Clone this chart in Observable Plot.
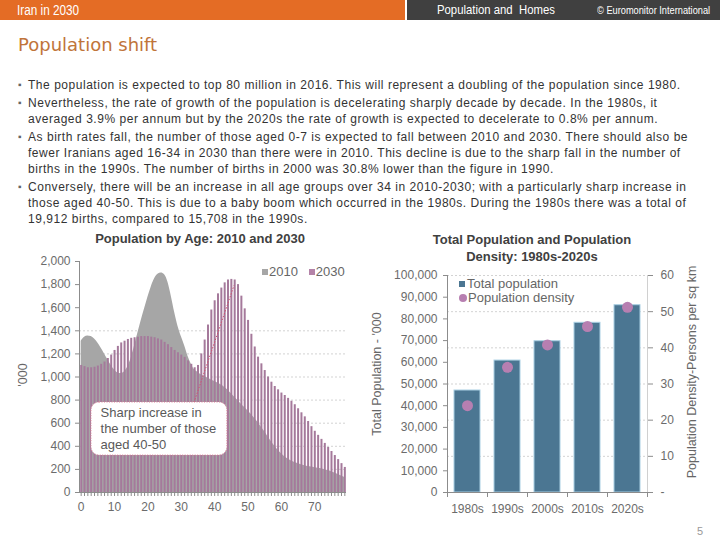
<!DOCTYPE html>
<html><head><meta charset="utf-8">
<script src="https://cdn.jsdelivr.net/npm/d3@7"></script>
<script src="https://cdn.jsdelivr.net/npm/@observablehq/plot@0.6"></script>
<style>
body{margin:0;width:720px;height:540px;position:relative;overflow:hidden;background:#fff;font-family:"Liberation Sans",Arial,sans-serif;}
.abs{position:absolute;white-space:nowrap;}
.hdr{color:#fff;font-family:"Liberation Sans Narrow","Liberation Sans",Arial,sans-serif;transform-origin:0 0;transform:scaleX(0.84);}
#bullets{left:18px;top:77px;font-size:12px;letter-spacing:0.53px;line-height:16px;color:#333;}
#bullets p{margin:0 0 2px 0;padding-left:10px;position:relative;}
#bullets p:before{content:"\25AA";position:absolute;left:0;top:0;color:#666;font-size:10px;letter-spacing:0;}
.ctitle{font-weight:bold;font-size:13px;color:#404040;text-align:center;}
.rot{transform:translate(-50%,-50%) rotate(-90deg);font-size:12.5px;color:#666;}
.leg{font-size:13px;color:#666;}
</style></head><body>
<div class="abs" style="left:0;top:0;width:405px;height:20px;background:#e46c25"></div>
<div class="abs" style="left:407px;top:0;width:313px;height:20px;background:#404040"></div>
<div class="abs hdr" style="left:17px;top:2px;font-size:14px;">Iran in 2030</div>
<div class="abs hdr" style="left:437px;top:2px;font-size:13.5px;">Population and&nbsp; Homes</div>
<div class="abs hdr" style="left:597px;top:4px;font-size:11px;">© Euromonitor International</div>
<div class="abs" style="left:18px;top:34px;font-family:'DejaVu Sans',Verdana,sans-serif;font-size:18px;color:#c0743a;">Population shift</div>
<div id="bullets" class="abs">
<p>The population is expected to top 80 million in 2016. This will represent a doubling of the population since 1980.</p>
<p>Nevertheless, the rate of growth of the population is decelerating sharply decade by decade. In the 1980s, it<br>averaged 3.9% per annum but by the 2020s the rate of growth is expected to decelerate to 0.8% per annum.</p>
<p>As birth rates fall, the number of those aged 0-7 is expected to fall between 2010 and 2030. There should also be<br>fewer Iranians aged 16-34 in 2030 than there were in 2010. This decline is due to the sharp fall in the number of<br>births in the 1990s. The number of births in 2000 was 30.8% lower than the figure in 1990.</p>
<p>Conversely, there will be an increase in all age groups over 34 in 2010-2030; with a particularly sharp increase in<br>those aged 40-50. This is due to a baby boom which occurred in the 1980s. During the 1980s there was a total of<br>19,912 births, compared to 15,708 in the 1990s.</p>
</div>

<div class="abs ctitle" style="left:200px;top:231px;transform:translateX(-50%);">Population by Age: 2010 and 2030</div>
<div class="abs ctitle" style="left:532px;top:231px;transform:translateX(-50%);line-height:17px;">Total Population and Population<br>Density: 1980s-2020s</div>

<div class="abs rot" style="left:23px;top:375px;">'000</div>
<div class="abs rot" style="left:377px;top:374px;">Total Population - '000</div>
<div class="abs rot" style="left:692px;top:372px;">Population Density-Persons per sq km</div>

<div class="abs leg" style="left:262px;top:264px;"><span style="display:inline-block;width:6px;height:6px;background:#a6a6a6;margin-right:1px;vertical-align:1px"></span>2010&nbsp;&nbsp;&nbsp;<span style="display:inline-block;width:6px;height:6px;background:#b483a8;margin-right:1px;vertical-align:1px"></span>2030</div>
<div class="abs leg" style="left:459px;top:277px;line-height:14px;"><span style="display:inline-block;width:6px;height:6px;background:#4b7692;margin-right:2px;vertical-align:1px"></span>Total population<br><span style="display:inline-block;width:8px;height:8px;border-radius:50%;background:#b77fb1;margin-right:1px;vertical-align:0px"></span>Population density</div>

<div class="abs" style="left:697px;top:525px;font-size:11px;color:#999;">5</div>

<div id="left" class="abs" style="left:0;top:250px;"></div>
<div id="right" class="abs" style="left:360px;top:262px;"></div>

<script>
// ---- Data ----
const ages = d3.range(0, 80);
const pop2010 = [1310,1345,1355,1350,1330,1295,1250,1200,1150,1100,
  1060,1035,1030,1045,1090,1165,1270,1380,1490,1590,
  1690,1780,1850,1890,1900,1885,1820,1700,1560,1440,
  1350,1270,1180,1110,1060,1040,1020,1005,990,975,
  960,945,930,910,885,855,825,795,765,735,
  705,675,640,605,565,525,480,440,400,365,
  335,310,290,272,260,250,240,232,225,220,
  215,210,205,198,190,180,168,155,142,130];
const pop2030 = [1100,1090,1080,1080,1085,1095,1110,1130,1160,1190,
  1230,1265,1295,1310,1325,1335,1340,1345,1350,1350,
  1350,1345,1340,1330,1320,1300,1280,1255,1230,1210,
  1190,1170,1140,1110,1080,1100,1200,1320,1450,1580,
  1660,1720,1770,1815,1840,1845,1840,1800,1700,1590,
  1490,1370,1260,1172,1114,1056,1000,955,918,889,
  861,840,815,790,760,725,690,655,615,570,
  530,495,460,425,390,355,320,285,250,217];
const ageTicks = d3.range(0, 2001, 200);
const ageGrid = [200,400,600,800,1000,1200,1400];
const annotationBox = [{x1: 3.1, x2: 43.8, y1: 320, y2: 779}];
const annotationLine = [{x1: 33.8, y1: 780, x2: 45.8, y2: 1793}];
const annotationText = [{x: 5.8, y: 753, text: "Sharp increase in\nthe number of those\naged 40-50"}];

const decades = ["1980s","1990s","2000s","2010s","2020s"];
const totalPop = [47000, 60800, 69700, 78200, 86300];
const density = [24.0, 34.6, 40.8, 45.9, 51.2];
const popTicks = d3.range(0, 100001, 10000);
const densityTicks = [0,10,20,30,40,50,60];

// ---- Left chart ----
const ageData = ages.map((a,i)=>({age:a, v2010: pop2010[i], v2030: pop2030[i]}));
const font = "Liberation Sans, Arial, sans-serif";
const left = Plot.plot({
  width: 360, height: 280,
  marginLeft: 79, marginRight: 14, marginTop: 11, marginBottom: 38,
  x: {domain: [-0.5, 79.5]},
  y: {domain: [0, 2000]},
  style: {fontFamily: font, fontSize: "12px", color: "#6b6b6b", background: "transparent", overflow: "visible"},
  marks: [
    Plot.ruleY(ageGrid, {stroke: "#c8c8c8", strokeDasharray: "2,2", strokeWidth: 0.8}),
    Plot.areaY(ageData, {x: "age", y: "v2010", fill: "#a6a6a6", curve: "monotone-x"}),
    Plot.ruleX(ageData, {x: "age", y1: 0, y2: "v2030", stroke: "#a5799b", strokeWidth: 2}),
    Plot.ruleX([-0.5], {y1: 0, y2: 2000, stroke: "#8c8c8c"}),
    Plot.ruleY([0], {stroke: "#8c8c8c"}),
    Plot.axisY(ageTicks, {tickSize: 4, tickPadding: 5, tickFormat: d3.format(","), label: null, stroke: "#8c8c8c"}),
    Plot.axisX(ages, {tickSize: 4, tickPadding: 6, tickFormat: d => d % 10 === 0 ? String(d) : "", label: null, stroke: "#8c8c8c"}),
    Plot.link(annotationLine, {x1: "x1", y1: "y1", x2: "x2", y2: "y2", stroke: "#d0506e", strokeDasharray: "1.5,1.5", strokeWidth: 1}),
    Plot.rect(annotationBox, {x1: "x1", x2: "x2", y1: "y1", y2: "y2", fill: "white", stroke: "#e07f95", strokeDasharray: "1,1.5", rx: 8}),
    Plot.text(annotationText, {x: "x", y: "y", text: "text", textAnchor: "start", lineAnchor: "top", lineHeight: 1.23, fontSize: 13, fill: "#595959"})
  ]
});
document.getElementById("left").append(left);

// ---- Right chart ----
const k = 100000 / 60;
const decData = decades.map((d,i)=>({decade: d, pop: totalPop[i], dens: density[i]}));
const right = Plot.plot({
  width: 360, height: 260,
  marginLeft: 87, marginRight: 73, marginTop: 13, marginBottom: 30,
  x: {domain: decades, paddingInner: 0.35, paddingOuter: 0.175},
  y: {domain: [0, 100000]},
  style: {fontFamily: font, fontSize: "12px", color: "#6b6b6b", background: "transparent", overflow: "visible"},
  marks: [
    Plot.ruleY(densityTicks.filter(d => d > 0), {y: d => d * k, stroke: "#c8c8c8", strokeDasharray: "2,2", strokeWidth: 0.8}),
    Plot.barY(decData, {x: "decade", y: "pop", fill: "#4b7692", stroke: "#a9cfe3", strokeWidth: 1}),
    Plot.dot(decData, {x: "decade", y: d => d.dens * k, r: 5.5, fill: "#b77fb1"}),
    Plot.frame({anchor: "left", stroke: "#8c8c8c"}),
    Plot.frame({anchor: "right", stroke: "#d0d0d0"}),
    Plot.ruleY([0], {stroke: "#8c8c8c"}),
    Plot.axisY(popTicks, {anchor: "left", tickSize: 4, tickPadding: 6, tickFormat: d3.format(","), label: null, stroke: "#8c8c8c"}),
    Plot.axisY(densityTicks.map(d => d * k), {anchor: "right", tickSize: 5, tickPadding: 8, label: null, stroke: "#8c8c8c",
      tickFormat: v => { const d = Math.round(v / k); return d === 0 ? "-" : String(d); }}),
    Plot.axisX(decades, {tickSize: 0, tickPadding: 12, label: null}),
    Plot.axisX(decades, {tickSize: 5, dx: -20, text: null, label: null, stroke: "#8c8c8c"}),
    Plot.axisX([decades[4]], {tickSize: 5, dx: 20, text: null, label: null, stroke: "#8c8c8c"})
  ]
});
document.getElementById("right").append(right);
</script>
</body></html>
